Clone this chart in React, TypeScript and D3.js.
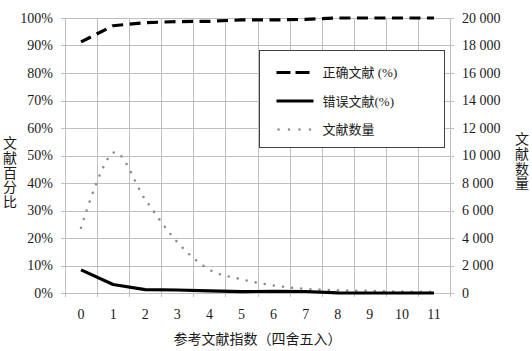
import { useEffect, useRef } from "react";
import * as d3 from "d3";

const CATEGORIES = ["0", "1", "2", "3", "4", "5", "6", "7", "8", "9", "10", "11"];
const CORRECT_PCT = [91.3, 97.2, 98.3, 98.7, 98.8, 99.3, 99.3, 99.5, 100, 100, 100, 100];
const ERROR_PCT = [8.4, 3.1, 1.2, 1.1, 0.8, 0.5, 0.6, 0.55, 0.05, 0, 0, 0];
const COUNTS = [4750, 10200, 6800, 3700, 1700, 1000, 550, 300, 200, 150, 100, 80];
const LEFT_TICKS = [0, 10, 20, 30, 40, 50, 60, 70, 80, 90, 100];
const RIGHT_TICKS = [0, 2000, 4000, 6000, 8000, 10000, 12000, 14000, 16000, 18000, 20000];
const LEGEND_LABELS = ["正确文献 (%)", "错误文献(%)", "文献数量"];
const X_TITLE = "参考文献指数（四舍五入）";
const LEFT_TITLE = "文献百分比";
const RIGHT_TITLE = "文献数量";

const W = 532;
const H = 351;
const plot = { left: 65, right: 450, top: 18, bottom: 293 };

const COLORS = {
  grid: "#bfbfbf",
  line: "#000000",
  dots: "#8c8c8c",
  text: "#1a1a1a",
  legendBorder: "#404040",
};

const FONT = "'Liberation Serif', 'Times New Roman', 'Noto Sans CJK SC', serif";

export default function App() {
  const svgRef = useRef<SVGSVGElement>(null);

  useEffect(() => {
    if (!svgRef.current) return;
    const svg = d3.select(svgRef.current);
    svg.selectAll("*").remove();

    const x = d3.scaleBand().domain(CATEGORIES).range([plot.left, plot.right]).paddingInner(0).paddingOuter(0);
    const cx = (c: string) => (x(c) ?? 0) + x.bandwidth() / 2;
    const yL = d3.scaleLinear().domain([0, 100]).range([plot.bottom, plot.top]);
    const yR = d3.scaleLinear().domain([0, 20000]).range([plot.bottom, plot.top]);

    // grid
    const grid = svg.append("g").attr("class", "grid");
    grid.selectAll("line.h")
      .data(LEFT_TICKS)
      .join("line")
      .attr("x1", plot.left - 4)
      .attr("x2", plot.right + 4)
      .attr("y1", (d) => Math.round(yL(d)) + 0.5)
      .attr("y2", (d) => Math.round(yL(d)) + 0.5)
      .attr("stroke", COLORS.grid)
      .attr("stroke-width", 1);

    const bounds = CATEGORIES.map((c) => x(c) ?? 0).concat([plot.right]);
    grid.selectAll("line.v")
      .data(bounds)
      .join("line")
      .attr("x1", (d) => Math.round(d) + 0.5)
      .attr("x2", (d) => Math.round(d) + 0.5)
      .attr("y1", plot.top)
      .attr("y2", plot.bottom + 4)
      .attr("stroke", COLORS.grid)
      .attr("stroke-width", 1);

    // left ticks
    svg.append("g")
      .selectAll("text")
      .data(LEFT_TICKS)
      .join("text")
      .attr("x", 53)
      .attr("y", (d) => yL(d))
      .attr("dy", "0.35em")
      .attr("text-anchor", "end")
      .attr("font-family", FONT)
      .attr("font-size", 14)
      .attr("fill", COLORS.text)
      .text((d) => `${d}%`);

    // right ticks
    const fmt = (d: number) => (d >= 1000 ? `${Math.floor(d / 1000)} ${String(d % 1000).padStart(3, "0")}` : `${d}`);
    svg.append("g")
      .selectAll("text")
      .data(RIGHT_TICKS)
      .join("text")
      .attr("x", 462)
      .attr("y", (d) => yR(d))
      .attr("dy", "0.35em")
      .attr("text-anchor", "start")
      .attr("font-family", FONT)
      .attr("font-size", 14)
      .attr("fill", COLORS.text)
      .text((d) => fmt(d));

    // x ticks
    svg.append("g")
      .selectAll("text")
      .data(CATEGORIES)
      .join("text")
      .attr("x", (d) => cx(d))
      .attr("y", 319)
      .attr("text-anchor", "middle")
      .attr("font-family", FONT)
      .attr("font-size", 14)
      .attr("fill", COLORS.text)
      .text((d) => d);

    // titles
    svg.append("text")
      .attr("x", (plot.left + plot.right) / 2)
      .attr("y", 344)
      .attr("text-anchor", "middle")
      .attr("font-family", FONT)
      .attr("font-size", 14)
      .attr("fill", COLORS.text)
      .text(X_TITLE);

    svg.append("g")
      .selectAll("text")
      .data(Array.from(LEFT_TITLE))
      .join("text")
      .attr("x", 10)
      .attr("y", (_, i) => 143 + i * 14.8)
      .attr("dy", "0.35em")
      .attr("text-anchor", "middle")
      .attr("font-family", FONT)
      .attr("font-size", 14)
      .attr("fill", COLORS.text)
      .text((d) => d);

    svg.append("g")
      .selectAll("text")
      .data(Array.from(RIGHT_TITLE))
      .join("text")
      .attr("x", 522)
      .attr("y", (_, i) => 139 + i * 14.8)
      .attr("dy", "0.35em")
      .attr("text-anchor", "middle")
      .attr("font-family", FONT)
      .attr("font-size", 14)
      .attr("fill", COLORS.text)
      .text((d) => d);

    // series
    const countLine = d3.line<number>()
      .x((_, i) => cx(CATEGORIES[i]))
      .y((d) => yR(d))
      .curve(d3.curveCatmullRom.alpha(0));
    svg.append("path")
      .attr("d", countLine(COUNTS))
      .attr("fill", "none")
      .attr("stroke", COLORS.dots)
      .attr("stroke-width", 2.6)
      .attr("stroke-linecap", "round")
      .attr("stroke-dasharray", "0,9.2");

    const pctLine = d3.line<number>()
      .x((_, i) => cx(CATEGORIES[i]))
      .y((d) => yL(d));

    svg.append("path")
      .attr("d", pctLine(ERROR_PCT))
      .attr("fill", "none")
      .attr("stroke", COLORS.line)
      .attr("stroke-width", 3.2)
      .attr("stroke-linejoin", "round");

    svg.append("path")
      .attr("d", pctLine(CORRECT_PCT))
      .attr("fill", "none")
      .attr("stroke", COLORS.line)
      .attr("stroke-width", 3.2)
      .attr("stroke-dasharray", "11,6.5");

    // legend
    const lg = svg.append("g").attr("transform", "translate(259.5,50.5)");
    lg.append("rect")
      .attr("width", 185)
      .attr("height", 97)
      .attr("fill", "#fff")
      .attr("stroke", COLORS.legendBorder)
      .attr("stroke-width", 1);

    const styles = [
      { dash: "14,5", color: COLORS.line, w: 3.2, cap: "butt" },
      { dash: null, color: COLORS.line, w: 3.2, cap: "butt" },
      { dash: "0,10.5", color: COLORS.dots, w: 2.6, cap: "round" },
    ];
    LEGEND_LABELS.forEach((label, i) => {
      const yy = 22 + i * 28.5;
      const st = styles[i];
      const l = lg.append("line")
        .attr("x1", i === 2 ? 19 : 17)
        .attr("x2", 54)
        .attr("y1", yy)
        .attr("y2", yy)
        .attr("stroke", st.color)
        .attr("stroke-width", st.w)
        .attr("stroke-linecap", st.cap);
      if (st.dash) l.attr("stroke-dasharray", st.dash);
      lg.append("text")
        .attr("x", 63)
        .attr("y", yy)
        .attr("dy", "0.35em")
        .attr("font-family", FONT)
        .attr("font-size", 13)
        .attr("fill", COLORS.text)
        .text(label);
    });
  }, []);

  return (
    <div style={{ position: "fixed", left: 0, top: 0, background: "#fff" }}>
      <svg ref={svgRef} width={W} height={H} style={{ display: "block" }} />
    </div>
  );
}
